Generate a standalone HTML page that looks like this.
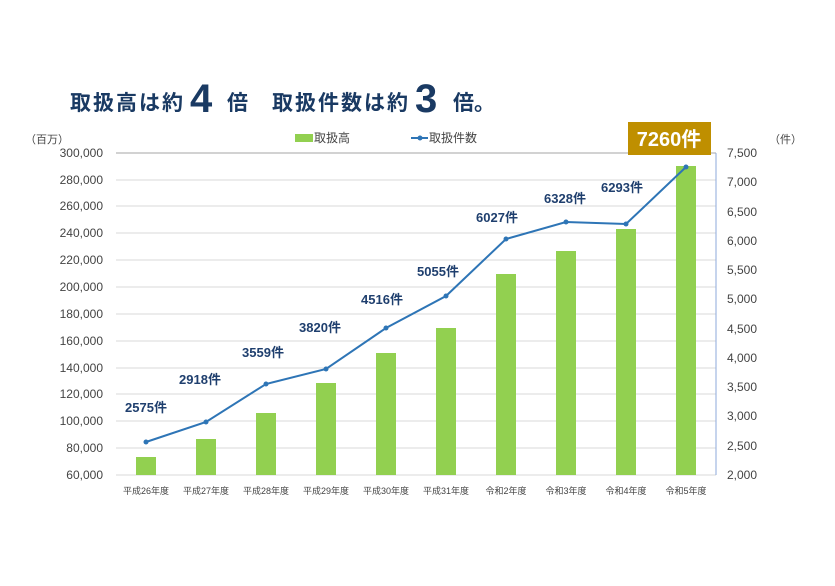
<!DOCTYPE html><html><head><meta charset="utf-8"><style>body{margin:0;background:#fff}svg{display:block}</style></head><body>
<svg width="835" height="586" xmlns="http://www.w3.org/2000/svg" font-family="Liberation Sans, Noto Sans CJK JP, sans-serif">
<text x="70" y="110" font-size="21" font-weight="bold" fill="#1a3a63" letter-spacing="2">取扱高は約</text>
<text x="190" y="112" font-size="40" font-weight="bold" fill="#1a3a63">4</text>
<text x="227" y="110" font-size="21" font-weight="bold" fill="#1a3a63">倍</text>
<text x="272" y="110" font-size="21" font-weight="bold" fill="#1a3a63" letter-spacing="2">取扱件数は約</text>
<text x="415" y="112" font-size="40" font-weight="bold" fill="#1a3a63">3</text>
<text x="453" y="110" font-size="21" font-weight="bold" fill="#1a3a63">倍。</text>
<text x="25" y="143" font-size="11" fill="#444">（百万）</text>
<text x="769" y="143" font-size="11" fill="#444">（件）</text>
<rect x="295" y="134" width="18" height="8" fill="#92d050"/><text x="314" y="142" font-size="12" fill="#444">取扱高</text>
<line x1="411" y1="138" x2="428" y2="138" stroke="#2e75b6" stroke-width="2"/><circle cx="420" cy="138" r="2.5" fill="#2e75b6"/><text x="429" y="142" font-size="12" fill="#444">取扱件数</text>
<g stroke="#d9d9d9" stroke-width="1">
<line x1="116" y1="153" x2="716" y2="153" stroke="#a6a6a6"/><line x1="116" y1="180" x2="716" y2="180"/><line x1="116" y1="206" x2="716" y2="206"/><line x1="116" y1="233" x2="716" y2="233"/><line x1="116" y1="260" x2="716" y2="260"/><line x1="116" y1="287" x2="716" y2="287"/><line x1="116" y1="314" x2="716" y2="314"/><line x1="116" y1="341" x2="716" y2="341"/><line x1="116" y1="368" x2="716" y2="368"/><line x1="116" y1="394" x2="716" y2="394"/><line x1="116" y1="421" x2="716" y2="421"/><line x1="116" y1="448" x2="716" y2="448"/><line x1="116" y1="475" x2="716" y2="475"/></g>
<line x1="716" y1="153" x2="716" y2="475" stroke="#8eaadb"/>
<g font-size="12" fill="#444" text-anchor="end">
<text x="103" y="157">300,000</text><text x="103" y="184">280,000</text><text x="103" y="210">260,000</text><text x="103" y="237">240,000</text><text x="103" y="264">220,000</text><text x="103" y="291">200,000</text><text x="103" y="318">180,000</text><text x="103" y="345">160,000</text><text x="103" y="372">140,000</text><text x="103" y="398">120,000</text><text x="103" y="425">100,000</text><text x="103" y="452">80,000</text><text x="103" y="479">60,000</text></g>
<g font-size="12" fill="#444">
<text x="727" y="157">7,500</text><text x="727" y="186">7,000</text><text x="727" y="216">6,500</text><text x="727" y="245">6,000</text><text x="727" y="274">5,500</text><text x="727" y="303">5,000</text><text x="727" y="333">4,500</text><text x="727" y="362">4,000</text><text x="727" y="391">3,500</text><text x="727" y="420">3,000</text><text x="727" y="450">2,500</text><text x="727" y="479">2,000</text></g>
<g fill="#92d050">
<rect x="136" y="457" width="20" height="18"/><rect x="196" y="439" width="20" height="36"/><rect x="256" y="413" width="20" height="62"/><rect x="316" y="383" width="20" height="92"/><rect x="376" y="353" width="20" height="122"/><rect x="436" y="328" width="20" height="147"/><rect x="496" y="274" width="20" height="201"/><rect x="556" y="251" width="20" height="224"/><rect x="616" y="229" width="20" height="246"/><rect x="676" y="166" width="20" height="309"/></g>
<polyline points="146,442 206,422 266,384 326,369 386,328 446,296 506,239 566,222 626,224 686,167" fill="none" stroke="#2e75b6" stroke-width="2"/>
<g fill="#2e75b6"><circle cx="146" cy="442" r="2.5"/><circle cx="206" cy="422" r="2.5"/><circle cx="266" cy="384" r="2.5"/><circle cx="326" cy="369" r="2.5"/><circle cx="386" cy="328" r="2.5"/><circle cx="446" cy="296" r="2.5"/><circle cx="506" cy="239" r="2.5"/><circle cx="566" cy="222" r="2.5"/><circle cx="626" cy="224" r="2.5"/><circle cx="686" cy="167" r="2.5"/></g>
<g font-size="13" font-weight="bold" fill="#1f3f6e" text-anchor="middle">
<text x="146" y="412">2575件</text><text x="200" y="384">2918件</text><text x="263" y="357">3559件</text><text x="320" y="332">3820件</text><text x="382" y="304">4516件</text><text x="438" y="276">5055件</text><text x="497" y="222">6027件</text><text x="565" y="203">6328件</text><text x="622" y="192">6293件</text></g>
<rect x="628" y="122" width="83" height="33" fill="#bf8f00"/>
<text x="669" y="146" font-size="20" font-weight="bold" fill="#fff" text-anchor="middle">7260件</text>
<g font-size="9" fill="#444" text-anchor="middle">
<text x="146" y="494">平成26年度</text><text x="206" y="494">平成27年度</text><text x="266" y="494">平成28年度</text><text x="326" y="494">平成29年度</text><text x="386" y="494">平成30年度</text><text x="446" y="494">平成31年度</text><text x="506" y="494">令和2年度</text><text x="566" y="494">令和3年度</text><text x="626" y="494">令和4年度</text><text x="686" y="494">令和5年度</text></g>
</svg></body></html>
